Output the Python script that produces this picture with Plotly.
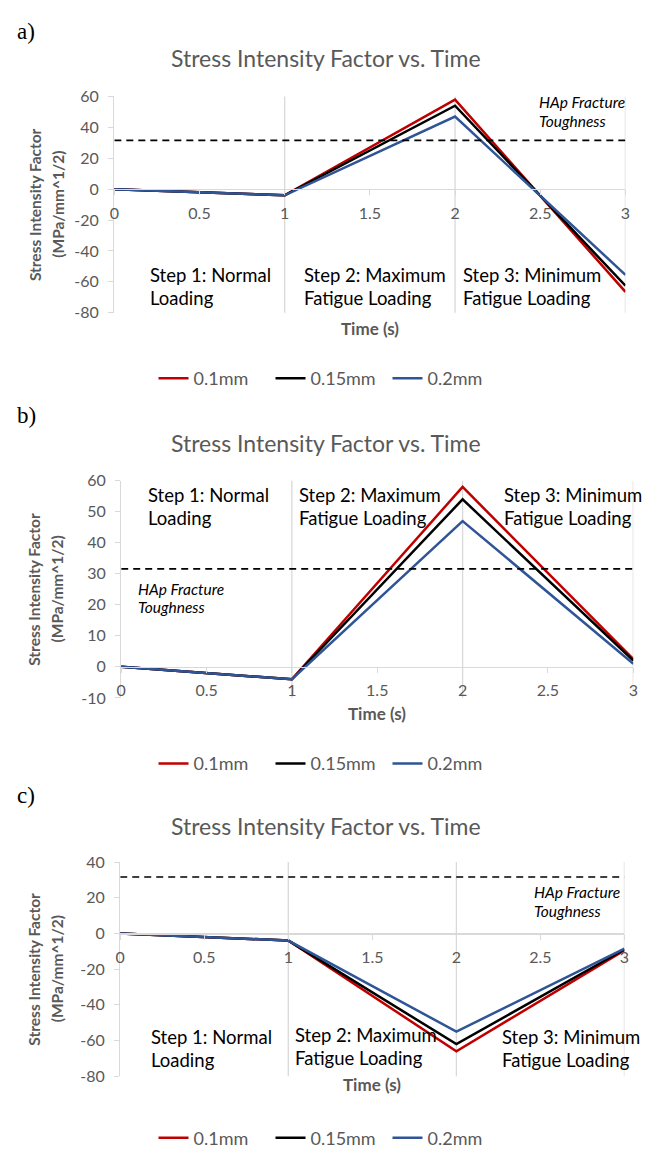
import plotly.graph_objects as go

W, H = 658, 1157

# ---------------- data ----------------
time_s = [0, 1, 2, 3]
series_names = ["0.1mm", "0.15mm", "0.2mm"]
series_colors = ["#C00000", "#000000", "#2F5597"]

a_01 = [0, -4, 58, -66.5]
a_015 = [0, -4, 54, -62.5]
a_02 = [0, -4, 47, -55.5]

b_01 = [0, -4, 58, 2.5]
b_015 = [0, -4, 54, 2]
b_02 = [0, -4, 47, 1]

c_01 = [0, -4, -66, -9.5]
c_015 = [0, -4, -62, -9]
c_02 = [0, -4, -55, -8.5]

toughness = 31.6
x_ticks = [0, 0.5, 1, 1.5, 2, 2.5, 3]
x_tick_labels = ["0", "0.5", "1", "1.5", "2", "2.5", "3"]
a_y_ticks = [-80, -60, -40, -20, 0, 20, 40, 60]
b_y_ticks = [-10, 0, 10, 20, 30, 40, 50, 60]
c_y_ticks = [-80, -60, -40, -20, 0, 20, 40]
grid_x = [1, 2, 3]

title_text = "Stress Intensity Factor vs. Time"
ytitle_lines = ["Stress Intensity Factor", "(MPa/mm^1/2)"]
xtitle_text = "Time (s)"
tough_lines = ["HAp Fracture", "Toughness"]
step_lines = [["Step 1: Normal", "Loading"],
              ["Step 2: Maximum", "Fatigue Loading"],
              ["Step 3: Minimum", "Fatigue Loading"]]

# ---------------- layout helpers ----------------
def fx(p):
    return p / W

def fy(p):
    return 1 - p / H

FONT = "Lato, 'Open Sans', sans-serif"
GRAY = "#595959"
LGRAY = "#D9D9D9"

panels = [
    dict(label="a)", series=[a_01, a_015, a_02], yr=[-80, 60], yt=a_y_ticks,
         xd=(111, 630), yd=(88, 308), title_y=49, label_y=22, xt_y=324, leg_y=375,
         tough=(540, 94), steps=[(145, 270), (302, 270), (463, 270)]),
    dict(label="b)", series=[b_01, b_015, b_02], yr=[-10, 60], yt=b_y_ticks,
         xd=(118, 638), yd=(479, 700), title_y=441, label_y=413, xt_y=716, leg_y=767,
         tough=(133, 589), steps=[(143, 494), (296, 494), (505, 494)]),
    dict(label="c)", series=[c_01, c_015, c_02], yr=[-80, 40], yt=c_y_ticks,
         xd=(117, 629), yd=(867, 1085), title_y=830, label_y=799, xt_y=1093, leg_y=1148,
         tough=(535, 898), steps=[(146, 1045), (292, 1043), (503, 1045)]),
]

fig = go.Figure()
annotations = []
shapes = []
layout_upd = {}

for i, p in enumerate(panels):
    k = "" if i == 0 else str(i + 1)
    xa, ya = "x" + k, "y" + k
    leg = "legend" + k
    for vals, name, col in zip(p["series"], series_names, series_colors):
        fig.add_trace(go.Scatter(x=time_s, y=vals, mode="lines", name=name,
                                 line=dict(color=col, width=2.5),
                                 xaxis=xa, yaxis=ya, legend=leg))
    fig.add_trace(go.Scatter(x=[time_s[0], time_s[-1]], y=[toughness, toughness],
                             mode="lines", line=dict(color="black", width=1.6, dash="7px,5px"),
                             showlegend=False, xaxis=xa, yaxis=ya))

    y0, y1 = p["yr"]
    top, bot = p["yd"]
    zero_px = top + (y1 - 0) / (y1 - y0) * (bot - top)

    layout_upd["xaxis" + k] = dict(
        domain=[fx(p["xd"][0]), fx(p["xd"][1])], range=[0, 3],
        anchor="free", position=fy(zero_px),
        showline=True, linecolor=LGRAY, linewidth=1.3,
        tickvals=x_ticks, ticktext=x_tick_labels, ticks="outside", ticklen=5,
        tickcolor=LGRAY, showgrid=False, zeroline=False, ticklabelstandoff=4,
        tickfont=dict(family=FONT, size=16, color=GRAY), fixedrange=True)
    layout_upd["yaxis" + k] = dict(
        domain=[fy(bot), fy(top)], range=[y0, y1], anchor=xa,
        tickvals=p["yt"], ticktext=[str(v) for v in p["yt"]],
        showline=True, linecolor=LGRAY, linewidth=1.3, ticks="outside", ticklen=5,
        tickcolor=LGRAY, showgrid=False, zeroline=False, ticklabelstandoff=6,
        tickfont=dict(family=FONT, size=16, color=GRAY), fixedrange=True)
    layout_upd[leg] = dict(orientation="h", x=0.5, xanchor="center",
                           y=fy(p["leg_y"]), yanchor="middle",
                           font=dict(family=FONT, size=18, color=GRAY),
                           itemwidth=30, entrywidth=72, tracegroupgap=0,
                           bgcolor="rgba(0,0,0,0)")

    for gx in grid_x:
        shapes.append(dict(type="line", xref=xa, yref=ya + " domain", x0=gx, x1=gx,
                           y0=0, y1=1, line=dict(color=LGRAY, width=1.3), layer="below"))

    annotations.append(dict(text=title_text, x=fx(326), y=fy(p["title_y"]), xref="paper",
                            yref="paper", showarrow=False, xanchor="center", yanchor="middle",
                            font=dict(family=FONT, size=23, color=GRAY)))
    annotations.append(dict(text=p["label"], x=fx(10), y=fy(p["label_y"]), xref="paper",
                            yref="paper", showarrow=False, xanchor="left", yanchor="middle",
                            font=dict(family="Liberation Serif", size=23, color="black")))
    annotations.append(dict(text="<b>" + xtitle_text + "</b>", x=fx((p["xd"][0] + p["xd"][1]) / 2),
                            y=fy(p["xt_y"]), xref="paper", yref="paper", showarrow=False,
                            xanchor="center", yanchor="middle",
                            font=dict(family=FONT, size=17, color=GRAY)))
    for j, line in enumerate(ytitle_lines):
        annotations.append(dict(text="<b>" + line + "</b>", x=fx(30 + 23 * j),
                                y=fy((top + bot) / 2), xref="paper", yref="paper",
                                showarrow=False, textangle=-90,
                                xanchor="center", yanchor="middle",
                                font=dict(family=FONT, size=15.5, color=GRAY)))
    tx, ty = p["tough"]
    for j, line in enumerate(tough_lines):
        annotations.append(dict(text="<i>" + line + "</i>", x=fx(tx), y=fy(ty + j * 19),
                                xref="paper", yref="paper", showarrow=False,
                                xanchor="left", yanchor="middle",
                                font=dict(family=FONT, size=15.5, color="black")))
    for (sx, sy), lines in zip(p["steps"], step_lines):
        for j, line in enumerate(lines):
            annotations.append(dict(text=line, x=fx(sx), y=fy(sy + j * 23),
                                    xref="paper", yref="paper", showarrow=False,
                                    xanchor="left", yanchor="middle",
                                    font=dict(family=FONT, size=18.5, color="black")))

fig.update_layout(width=W, height=H, margin=dict(l=0, r=0, t=0, b=0),
                  paper_bgcolor="white", plot_bgcolor="white",
                  annotations=annotations, shapes=shapes, **layout_upd)

fig.write_html("out.html", config={"displayModeBar": False, "staticPlot": True},
               post_script="document.body.style.margin='0';document.body.style.overflow='hidden';")
